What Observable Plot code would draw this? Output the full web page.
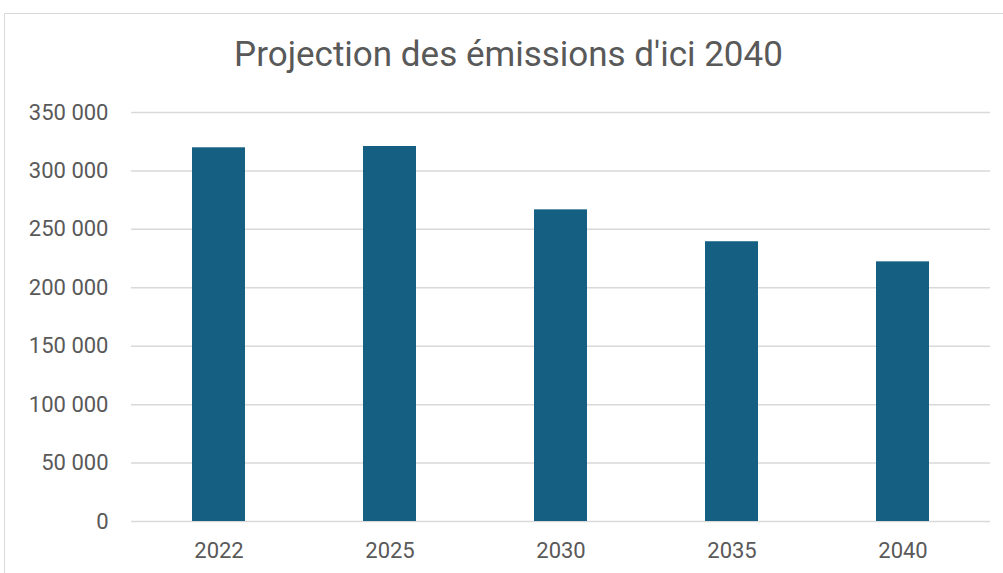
<!DOCTYPE html>
<html>
<head>
<meta charset="utf-8">
<script src="https://cdn.jsdelivr.net/npm/d3@7"></script>
<script src="https://cdn.jsdelivr.net/npm/@observablehq/plot@0.6"></script>
<style>
  html, body { margin: 0; padding: 0; background: #fff; overflow: hidden; width: 1003px; height: 573px; }
  #wrap { position: relative; width: 1003px; height: 573px; font-family: Roboto, "Liberation Sans", sans-serif; }
  #title { height: 90px; box-sizing: border-box; padding-top: 34px; text-align: center; font-size: 35px; line-height: normal; color: #595959; position: relative; left: 7px; white-space: nowrap; }
  #frame { position: absolute; left: 4px; top: 13px; width: 1100px; height: 700px; border: 1.5px solid #d9d9d9; pointer-events: none; z-index: 5; }
  #chart svg { display: block; background: transparent !important; }
</style>
</head>
<body>
<div id="wrap">
  <div id="frame"></div>
  <div id="title">Projection des émissions d'ici 2040</div>
  <div id="chart"></div>
</div>
<script>
const years = ["2022", "2025", "2030", "2035", "2040"];
const emissions = [319800, 320900, 266700, 239400, 222200];
const yTicks = [0, 50000, 100000, 150000, 200000, 250000, 300000, 350000];

const data = years.map((year, i) => ({year, value: emissions[i]}));
const fmt = d => d3.format(",")(d).replace(/,/g, " ");

const chart = Plot.plot({
  width: 1003,
  height: 483,
  marginTop: 22,
  marginBottom: 52,
  marginLeft: 131,
  marginRight: 13,
  style: {fontFamily: "Roboto, 'Liberation Sans', sans-serif", fontSize: "22px", color: "#595959", background: "transparent"},
  x: {domain: years, paddingInner: 0.69, paddingOuter: 0.345, label: null, tickSize: 0, tickPadding: 21},
  y: {domain: [0, 350000], ticks: yTicks, label: null, tickSize: 0, tickPadding: 23, tickFormat: fmt},
  marks: [
    Plot.ruleY(yTicks, {stroke: "#d9d9d9", strokeWidth: 1.5}),
    Plot.barY(data, {x: "year", y: "value", fill: "#156082"})
  ]
});
document.getElementById("chart").appendChild(chart);
</script>
</body>
</html>
